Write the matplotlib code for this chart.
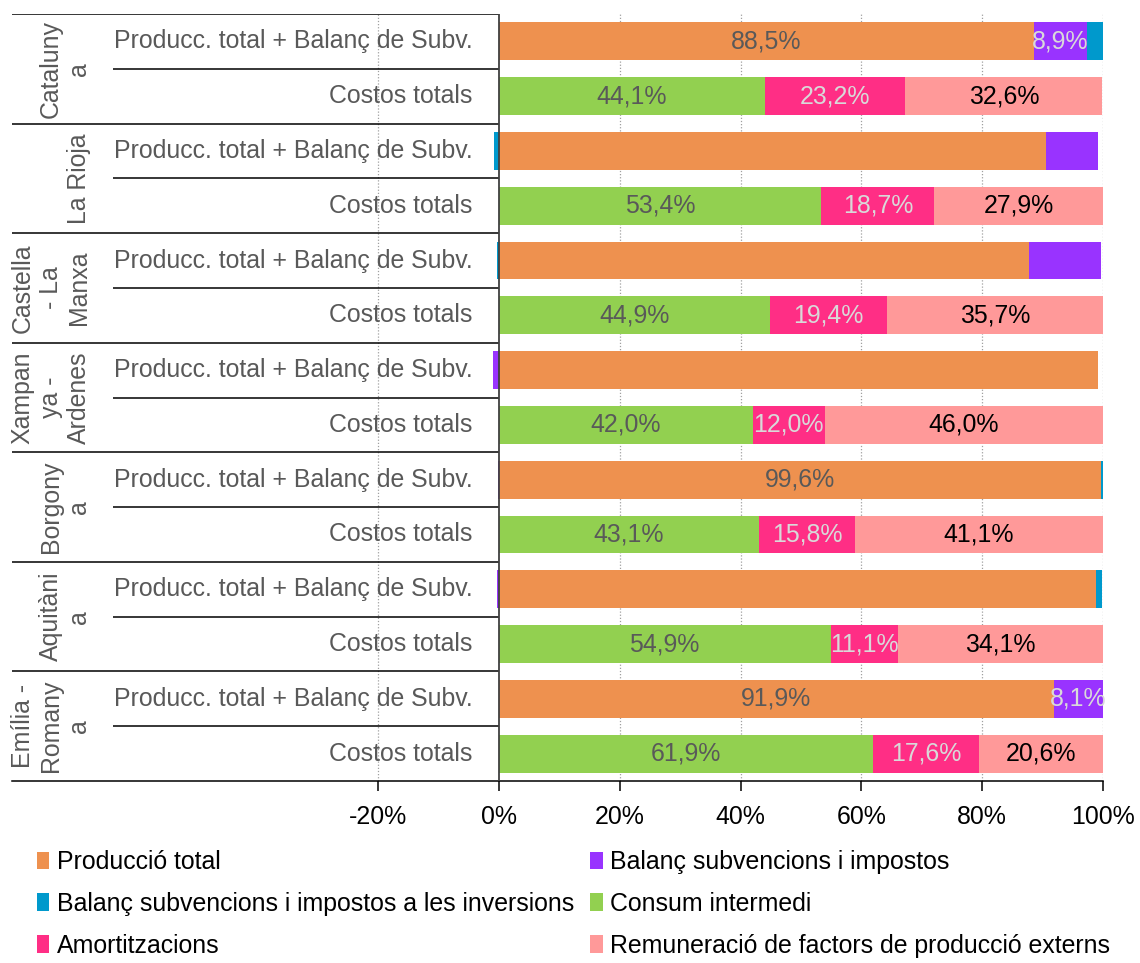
import matplotlib
matplotlib.use("Agg")
import matplotlib.pyplot as plt
from matplotlib.patches import Patch

plt.rcParams['font.family'] = ['Liberation Sans', 'DejaVu Sans']

# ---------------- data ----------------
regions = ["Cataluny\na", "La Rioja", "Castella\n- La\nManxa", "Xampan\nya -\nArdenes",
           "Borgony\na", "Aquitàni\na", "Emília -\nRomany\na"]
row_labels = ["Producc. total + Balanç de Subv.", "Costos totals"]

# Producció + balanç rows
prod_total = [88.5, 90.6, 87.8, 99.1, 99.6, 98.8, 91.9]
bal_subv = [8.9, 8.6, 11.8, -0.9, -0.2, -0.3, 8.1]
bal_inv = [2.6, -0.8, -0.3, 0.0, 0.4, 1.0, 0.0]
prod_labeled = [True, False, False, False, True, False, True]

# Costos rows
consum = [44.1, 53.4, 44.9, 42.0, 43.1, 54.9, 61.9]
amort = [23.2, 18.7, 19.4, 12.0, 15.8, 11.1, 17.6]
remun = [32.6, 27.9, 35.7, 46.0, 41.1, 34.1, 20.6]

series_names = ["Producció total", "Balanç subvencions i impostos",
                "Balanç subvencions i impostos a les inversions", "Consum intermedi",
                "Amortitzacions", "Remuneració de factors de producció externs"]
colors = ["#EE914F", "#9933FF", "#0099CC", "#92D050", "#FF2E85", "#FF9999"]
label_colors = ["#595959", "#D9D9D9", "#D9D9D9", "#595959", "#D9D9D9", "#000000"]
series_has_labels = [True, True, False, True, True, True]

# ---------------- figure ----------------
fig = plt.figure(figsize=(11.4, 9.63), dpi=100)
ax = fig.add_axes([12 / 1140, 1 - 781 / 963, (1103 - 12) / 1140, (781 - 14) / 963])

xmin = -20 - (378 - 12) / 6.04
ax.set_xlim(xmin, 100)
n = len(regions)
ax.set_ylim(2 * n - 0.5, -0.5)

FS = 17.9
bh = 0.69


def fmt(v):
    return f"{v:.1f}".replace(".", ",") + "%"


def stack(y, vals, cidx, labeled):
    pos = 0.0
    neg = 0.0
    for v, ci in zip(vals, cidx):
        if v == 0:
            continue
        if v > 0:
            left = pos
            pos += v
        else:
            left = neg + v
            neg += v
        ax.barh(y, abs(v), left=left, height=bh, color=colors[ci],
                linewidth=0, zorder=3)
        if labeled and v > 0 and series_has_labels[ci]:
            ax.text(left + v / 2, y, fmt(v), ha="center", va="center",
                    fontsize=FS, color=label_colors[ci], zorder=5)


for i in range(n):
    yp = 2 * i
    yc = 2 * i + 1
    stack(yp, [prod_total[i], bal_subv[i], bal_inv[i]], [0, 1, 2], prod_labeled[i])
    stack(yc, [consum[i], amort[i], remun[i]], [3, 4, 5], True)
    # row labels
    ax.text(-4.4, yp, row_labels[0], ha="right", va="center", fontsize=FS,
            color="#595959", zorder=4)
    ax.text(-4.4, yc, row_labels[1], ha="right", va="center", fontsize=FS,
            color="#595959", zorder=4)
    # region labels
    ax.text(-67.6, 2 * i + 0.5, regions[i], rotation=90, ha="right", va="center",
            multialignment="center", fontsize=FS, color="#595959", zorder=4,
            linespacing=1.2)
    # separators
    ax.plot([-63.9, 0], [2 * i + 0.5, 2 * i + 0.5], color="black", lw=1.1,
            zorder=4, solid_capstyle="butt")
    ax.plot([xmin, 0], [2 * i - 0.5, 2 * i - 0.5], color="black", lw=1.1,
            zorder=4, solid_capstyle="butt")

# category axis line at 0
ax.axvline(0, color="#404040", lw=1.3, zorder=4)

# x axis
ticks = [-20, 0, 20, 40, 60, 80, 100]
ax.set_xticks(ticks)
ax.set_xticklabels([f"{t}%" for t in ticks], fontsize=FS, color="black")
ax.tick_params(axis="x", length=7, width=1.1, color="black", pad=10, direction="out")
ax.set_yticks([])
for s in ["top", "right", "left"]:
    ax.spines[s].set_visible(False)
ax.spines["bottom"].set_color("black")
ax.spines["bottom"].set_linewidth(1.1)

for g in [-20, 20, 40, 60, 80, 100]:
    ax.axvline(g, color="#A0A0A0", lw=0.9, ls=(0, (1, 1.5)), zorder=1)

# legend (row-major order in the picture -> column-major handles)
order = [0, 2, 4, 1, 3, 5]
handles = [Patch(facecolor=colors[k], edgecolor="none", label=series_names[k]) for k in order]
fig.legend(handles=handles, loc="upper left", bbox_to_anchor=(37 / 1140, 1 - 850 / 963),
           ncol=2, frameon=False, fontsize=FS, handlelength=0.5, handleheight=0.7,
           handletextpad=0.3, columnspacing=0.65, labelspacing=0.72, borderpad=0,
           borderaxespad=0)

fig.savefig("out.png", dpi=100)
